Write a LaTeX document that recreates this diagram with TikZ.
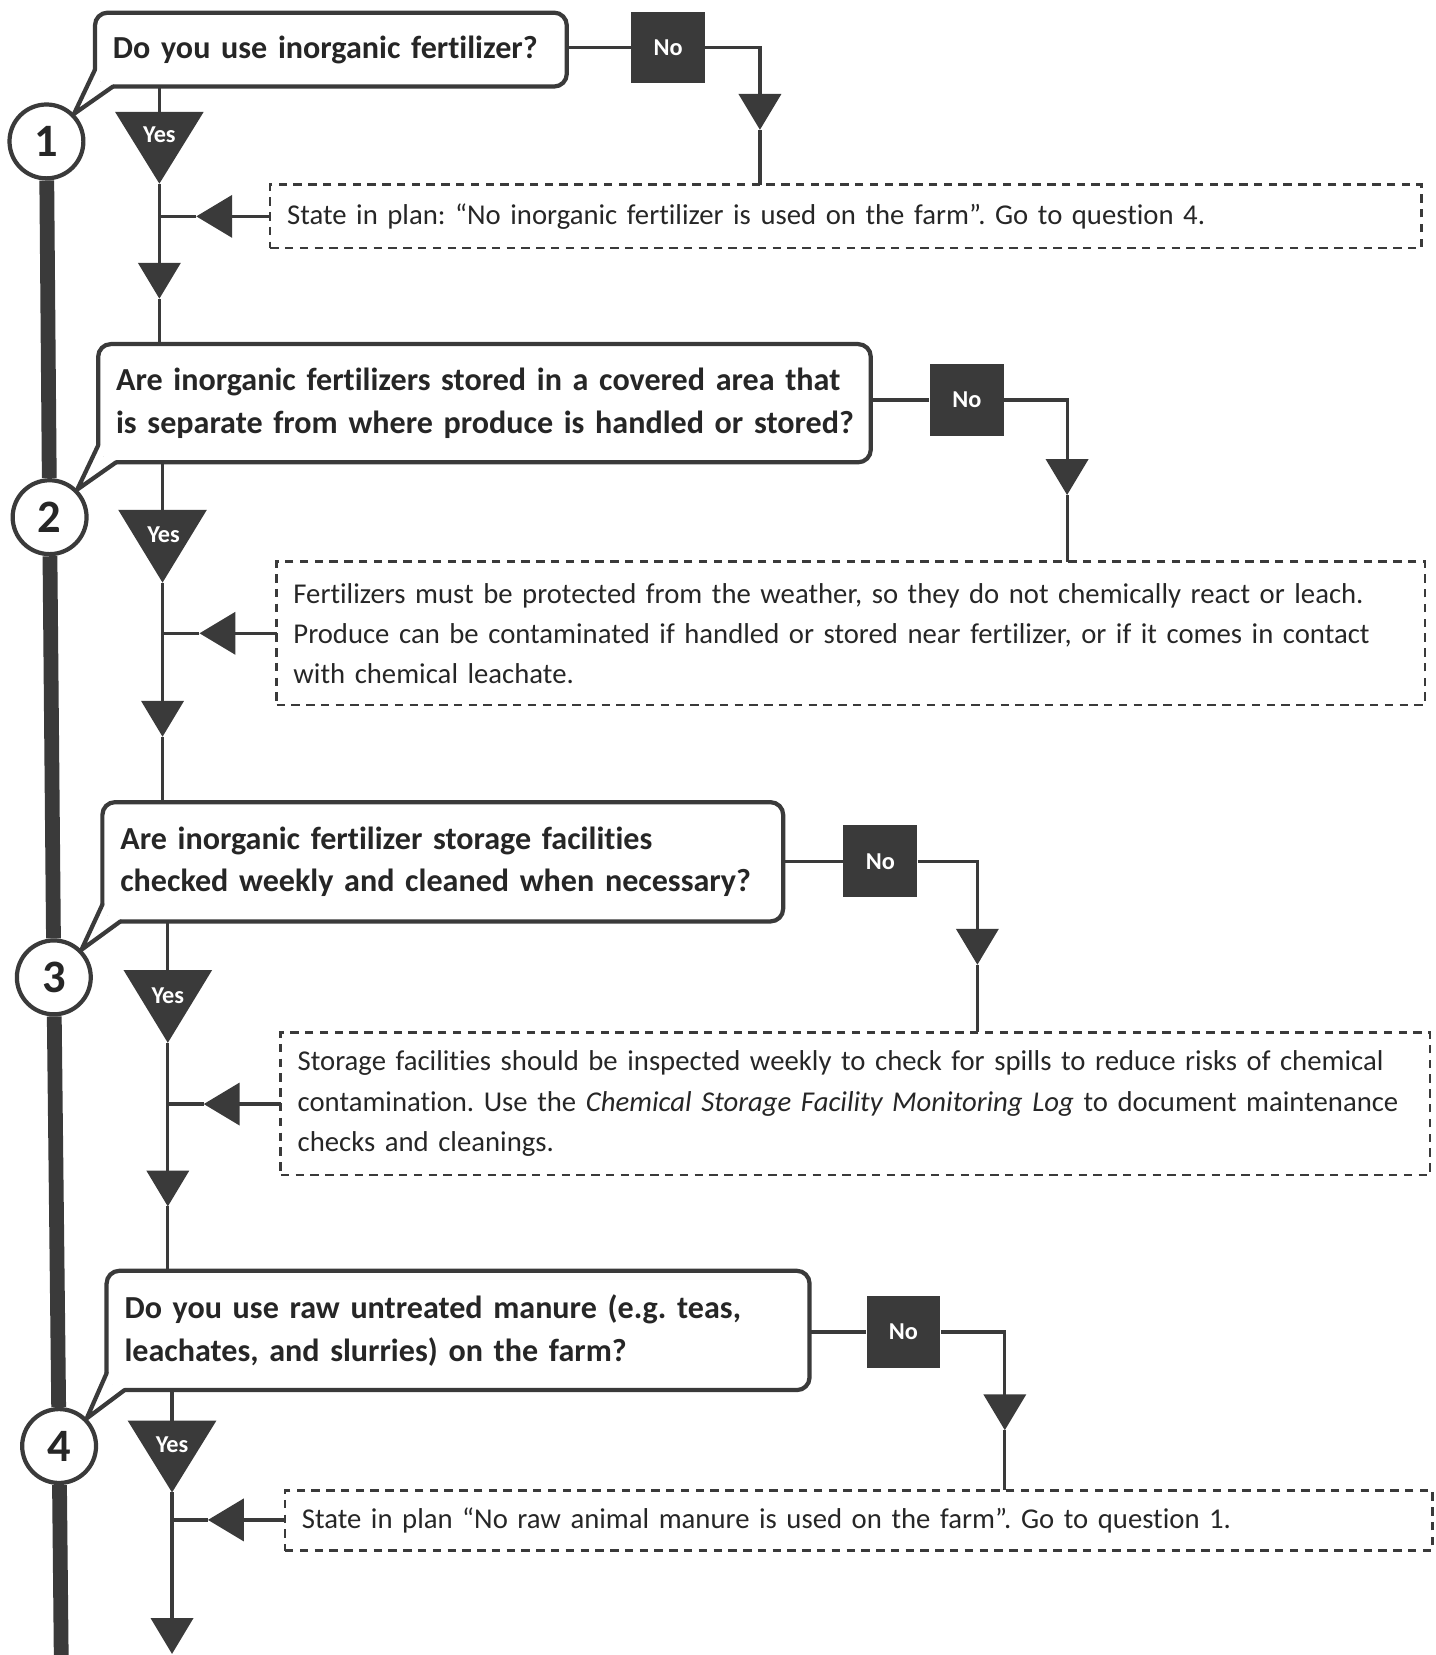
\documentclass[tikz,border=0pt]{standalone}
\usepackage{fontspec}
\setmainfont{Carlito}[Ligatures={NoCommon}]
\usetikzlibrary{arrows.meta,calc}
\definecolor{ink}{HTML}{3A3A3A}
\definecolor{txt}{HTML}{262626}
\pgfdeclarelayer{bg}
\pgfsetlayers{bg,main}
\newcommand\myqfont{\bfseries\fontsize{15.2}{20}\selectfont}
\newcommand\mynfont{\fontsize{13.6}{19}\selectfont}
\newcommand\mysmallbold{\bfseries\fontsize{11.5}{13}\selectfont}
\newcommand\mynumfont{\bfseries\fontsize{22}{22}\selectfont}
\hfuzz=50pt
\begin{document}
\frenchspacing
\begin{tikzpicture}[x=0.5pt,y=-0.5pt,
  flow/.style={draw=ink,line width=1.5pt},
  tipd/.style={-{Triangle[length=17pt,width=20pt]}},
  spine/.style={draw=ink,line width=7pt},
  qbox/.style={draw=ink,line width=2pt,rounded corners=6pt,fill=white,outer sep=0pt,inner xsep=8.5pt,inner ysep=0pt,text=txt,font=\myqfont},
  qtail/.style={draw=ink,line width=2pt,line join=round,line cap=round},
  nobox/.style={fill=ink,minimum width=35pt,minimum height=34pt,inner sep=0pt,text=white,font=\mysmallbold},
  yestxt/.style={text=white,font=\mysmallbold,inner sep=0pt},
  note/.style={draw=ink,line width=1.2pt,dash pattern=on 4pt off 3pt,outer sep=0pt,inner xsep=8pt,inner ysep=0pt,text=txt,font=\mynfont},
  num/.style={circle,draw=ink,line width=2pt,fill=white,minimum size=35pt,inner sep=0pt,text=txt,font=\mynumfont}]
\useasboundingbox (0,0) rectangle (1360,1568);

% number circles and spine
\node[num] (c1) at (44,134) {1};
\node[num] (c2) at (47,490) {2};
\node[num] (c3) at (51,926) {3};
\node[num] (c4) at (56,1370) {4};
\coordinate (cend) at (58,1568);
\begin{pgfonlayer}{bg}
\draw[spine] (c1) -- (c2) -- (c3) -- (c4) -- (cend);
\end{pgfonlayer}

% question boxes
\node[qbox,minimum width=223.5pt,minimum height=35pt,text width=206.5pt] (q1) at (313.5,47) {\mbox{Do you use inorganic fertilizer?}};
\node[qbox,minimum width=366pt,minimum height=56pt,text width=349pt] (q2) at (459,382) {\mbox{Are inorganic fertilizers stored in a covered area that}\\\mbox{is separate from where produce is handled or stored?}};
\node[qbox,minimum width=322.5pt,minimum height=56.5pt,text width=305.5pt] (q3) at (419.5,816.5) {\mbox{Are inorganic fertilizer storage facilities}\\\mbox{checked weekly and cleaned when necessary?}};
\node[qbox,minimum width=333pt,minimum height=56.5pt,text width=316pt] (q4) at (434,1260.5) {\mbox{Do you use raw untreated manure (e.g. teas,}\\\mbox{leachates, and slurries) on the farm?}};

% speech tails
\foreach \i in {1,2,3,4}{
  \fill[white] ($(q\i.south west)+(-3,-16)$) -- (c\i.north east) -- ($(q\i.south west)+(17,3)$) -- ($(q\i.south west)+(17,-5)$) -- ($(q\i.south west)+(5,-5)$) -- ($(q\i.south west)+(5,-16)$) -- cycle;
  \draw[qtail] ($(q\i.south west)+(0,-16)$) -- (c\i.north east) -- ($(q\i.south west)+(17,0)$);
}

% note boxes
\node[note,minimum width=545.5pt,minimum height=30pt,text width=529.5pt] (n1) at (801.5,205) {\mbox{State in plan: “No inorganic fertilizer is used on the farm”. Go to question 4.}};
\node[note,minimum width=544pt,minimum height=68pt,text width=528pt] (n2) at (806,600) {\mbox{Fertilizers must be protected from the weather, so they do not chemically react or leach.}\\\mbox{Produce can be contaminated if handled or stored near fertilizer, or if it comes in contact}\\\mbox{with chemical leachate.}};
\node[note,minimum width=544.5pt,minimum height=67.5pt,text width=528.5pt] (n3) at (810.5,1045.5) {\mbox{Storage facilities should be inspected weekly to check for spills to reduce risks of chemical}\\\mbox{contamination. Use the \textit{Chemical Storage Facility Monitoring Log} to document maintenance}\\\mbox{checks and cleanings.}};
\node[note,minimum width=543.5pt,minimum height=28.5pt,text width=527.5pt] (n4) at (813.5,1440.5) {\mbox{State in plan “No raw animal manure is used on the farm”. Go to question 1.}};

% No boxes
\node[nobox] (no1) at (633,45) {No};
\node[nobox] (no2) at (916,379) {No};
\node[nobox] (no3) at (834,816) {No};
\node[nobox] (no4) at (856,1262) {No};

% No branches
\coordinate (na1) at (720,123);
\coordinate (na2) at (1011,469);
\coordinate (na3) at (926,914);
\coordinate (na4) at (952,1355);
\foreach \i in {1,2,3,4}{
  \draw[flow] (no\i.west -| q\i.east) -- (no\i.west);
  \draw[flow,tipd] (no\i.east) -| (na\i);
  \draw[flow] (na\i) -- (na\i |- n\i.north);
}

% Yes triangles
\coordinate (yt1) at (151,106); \coordinate (yb1) at (151,174);
\coordinate (yt2) at (154,483); \coordinate (yb2) at (154,552);
\coordinate (yt3) at (159,919); \coordinate (yb3) at (159,988);
\coordinate (yt4) at (163,1346); \coordinate (yb4) at (163,1414);
\foreach \i in {1,2,3,4}{
  \draw[flow] (q\i.south -| yt\i) -- (yt\i);
  \fill[ink] ($(yt\i)+(-42,0)$) -- ($(yt\i)+(42,0)$) -- (yb\i) -- cycle;
}
\node[yestxt] (yes1) at (151,128) {Yes};
\node[yestxt] (yes2) at (155,507) {Yes};
\node[yestxt] (yes3) at (159,943) {Yes};
\node[yestxt] (yes4) at (163,1369) {Yes};

% down arrows on the yes line
\coordinate (da1) at (151,283);
\coordinate (da2) at (154,698);
\coordinate (da3) at (159,1143);
\coordinate (da4) at (163,1567);
\draw[flow,tipd] (yb1) -- (da1); \draw[flow] (da1) -- (da1 |- q2.north);
\draw[flow,tipd] (yb2) -- (da2); \draw[flow] (da2) -- (da2 |- q3.north);
\draw[flow,tipd] (yb3) -- (da3); \draw[flow] (da3) -- (da3 |- q4.north);
\draw[flow,tipd] (yb4) -- (da4);

% left arrows from note boxes
\coordinate (la1) at (186,205);
\coordinate (la2) at (189,600);
\coordinate (la3) at (193,1046);
\coordinate (la4) at (197,1440);
\foreach \i in {1,2,3,4}{
  \draw[flow,tipd] (n\i.west |- la\i) -- (la\i);
  \draw[flow] (la\i) -- (la\i -| yt\i);
}
\end{tikzpicture}
\end{document}
